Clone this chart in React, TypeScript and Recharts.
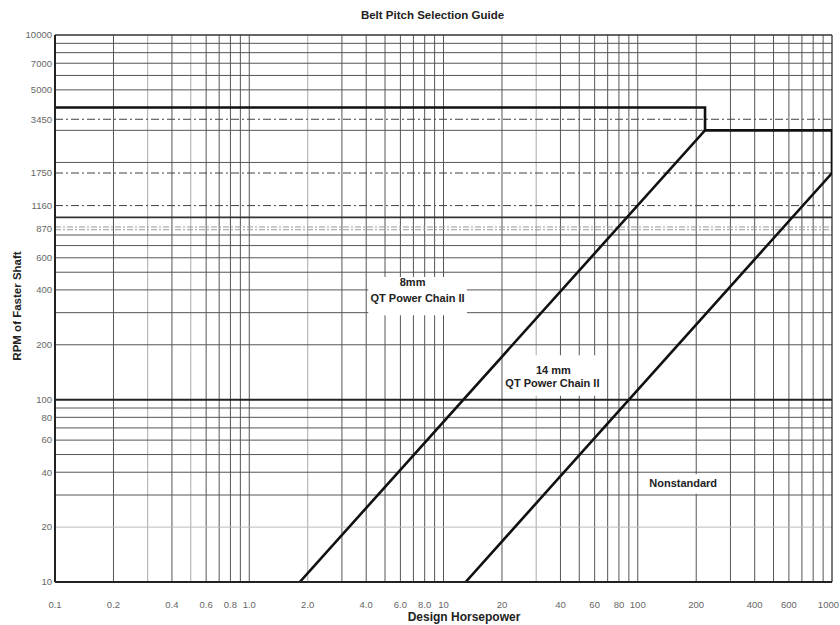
import React from 'react';
import { ComposedChart, Line, XAxis, YAxis, ReferenceLine, ReferenceArea } from 'recharts';

// tick values and their printed labels
const xTicks = [0.1, 0.2, 0.4, 0.6, 0.8, 1, 2, 4, 6, 8, 10, 20, 40, 60, 80, 100, 200, 400, 600, 1000];
const xTickLabels = ['0.1', '0.2', '0.4', '0.6', '0.8', '1.0', '2.0', '4.0', '6.0', '8.0', '10', '20', '40', '60', '80', '100', '200', '400', '600', '1000'];
const yTicks = [10, 20, 40, 60, 80, 100, 200, 400, 600, 870, 1160, 1750, 3450, 5000, 7000, 10000];

// log grid lines
const xGridDark = [0.2, 0.4, 0.6, 0.7, 0.8, 0.9, 1, 3, 4, 5, 6, 7, 8, 9, 10, 20, 40, 50, 60, 70, 80, 90, 100, 200, 300, 400, 500, 600, 700, 800, 900];
const xGridFaint = [0.3, 0.5, 2, 30];
const yGridDark = [30, 40, 50, 60, 70, 80, 90, 200, 300, 400, 500, 600, 700, 800, 2000, 3000, 5000, 6000, 7000, 8000, 9000];
const yGridFaint = [20];
const yDashDot = [1160, 1750, 3450];
const yDashLight = [855, 885];

// selection zone boundaries (hp, rpm)
const boundary8mm = [
  { hp: 0.1, rpm: 4000 },
  { hp: 222, rpm: 4000 },
  { hp: 222, rpm: 3000 },
  { hp: 1.82, rpm: 10 },
];
const boundary14mm = [
  { hp: 222, rpm: 3000 },
  { hp: 1000, rpm: 3000 },
  { hp: 1000, rpm: 1750 },
  { hp: 13, rpm: 10 },
];

const FONT = "'Liberation Sans', Arial, Helvetica, sans-serif";

const boxText = (lines: string[], offsets: { dx: number; dy: number }[]) => (props: any) => {
  const vb = props.viewBox || {};
  const cx = vb.x + vb.width / 2;
  return (
    <g>
      {lines.map((t, i) => (
        <text
          key={i}
          x={cx + offsets[i].dx}
          y={vb.y + offsets[i].dy}
          textAnchor="middle"
          dominantBaseline="central"
          fontFamily={FONT}
          fontSize={11}
          fontWeight="bold"
          fill="#222"
        >
          {t}
        </text>
      ))}
    </g>
  );
};

// x tick: the last label would run off the right edge, so end-anchor it there
const XTick = (props: any) => {
  const { x, y, payload } = props;
  const v = payload.value;
  const label = xTickLabels[xTicks.indexOf(v)] ?? String(v);
  const isLast = v === xTicks[xTicks.length - 1];
  return (
    <text
      x={isLast ? x + 7 : x}
      y={y + 4}
      textAnchor={isLast ? 'end' : 'middle'}
      dominantBaseline="central"
      fontFamily={FONT}
      fontSize={9.5}
      fill="#666"
    >
      {label}
    </text>
  );
};

const App: React.FC = () => {
  return (
    <div style={{ position: 'absolute', left: 0, top: 0, width: 840, height: 625, background: '#fff', fontFamily: FONT }}>
      <div
        style={{
          position: 'absolute',
          left: 0,
          width: 865,
          top: 9,
          textAlign: 'center',
          fontSize: 11.5,
          fontWeight: 'bold',
          color: '#222',
        }}
      >
        Belt Pitch Selection Guide
      </div>
      <ComposedChart width={840} height={625} margin={{ top: 35, right: 8, bottom: 0, left: 0 }}>
        <XAxis
          type="number"
          dataKey="hp"
          scale="log"
          domain={[0.1, 1000]}
          allowDataOverflow
          ticks={xTicks}
          interval={0}
          height={43}
          tickSize={0}
          tickMargin={18}
          tick={<XTick />}
          axisLine={{ stroke: '#222', strokeWidth: 2 }}
          label={{
            content: () => (
              <text x={464} y={617} textAnchor="middle" dominantBaseline="central" fontFamily={FONT} fontSize={12} fontWeight="bold" fill="#222">
                Design Horsepower
              </text>
            ),
          }}
        />
        <YAxis
          type="number"
          dataKey="rpm"
          scale="log"
          domain={[10, 10000]}
          allowDataOverflow
          ticks={yTicks}
          interval={0}
          width={55}
          tickSize={0}
          tickMargin={3}
          tick={{ fontSize: 9.5, fill: '#666', fontFamily: FONT }}
          axisLine={{ stroke: '#222', strokeWidth: 2 }}
          label={{
            content: () => (
              <text
                x={17}
                y={306}
                transform="rotate(-90, 17, 306)"
                textAnchor="middle"
                dominantBaseline="central"
                fontFamily={FONT}
                fontSize={11.5}
                fontWeight="bold"
                fill="#222"
              >
                RPM of Faster Shaft
              </text>
            ),
          }}
        />

        {xGridFaint.map((v) => (
          <ReferenceLine key={'xf' + v} x={v} stroke="#aaa" strokeWidth={1} zIndex={50} />
        ))}
        {xGridDark.map((v) => (
          <ReferenceLine key={'xd' + v} x={v} stroke="#555" strokeWidth={1} zIndex={50} />
        ))}
        {yGridFaint.map((v) => (
          <ReferenceLine key={'yf' + v} y={v} stroke="#bbb" strokeWidth={1} zIndex={50} />
        ))}
        {yGridDark.map((v) => (
          <ReferenceLine key={'yd' + v} y={v} stroke="#555" strokeWidth={1} zIndex={50} />
        ))}
        {yDashLight.map((v) => (
          <ReferenceLine key={'yl' + v} y={v} stroke="#999" strokeWidth={1} strokeDasharray="6 2 2 2" zIndex={50} />
        ))}
        {yDashDot.map((v) => (
          <ReferenceLine key={'ydd' + v} y={v} stroke="#444" strokeWidth={1} strokeDasharray="8 3 2 3" zIndex={50} />
        ))}
        <ReferenceLine y={100} stroke="#222" strokeWidth={2} zIndex={50} />
        <ReferenceLine y={1000} stroke="#333" strokeWidth={1.6} zIndex={50} />
        <ReferenceLine y={10000} stroke="#333" strokeWidth={1.3} zIndex={50} />
        <ReferenceLine x={1000} stroke="#333" strokeWidth={1.3} zIndex={50} />

        <ReferenceArea
          x1={4.1}
          x2={13.2}
          y1={290}
          y2={470}
          fill="#fff"
          fillOpacity={1}
          stroke="none"
          zIndex={60}
          label={boxText(['8mm', 'QT Power Chain II'], [{ dx: -5, dy: 5 }, { dx: 0, dy: 21 }])}
        />
        <ReferenceArea
          x1={20.7}
          x2={67}
          y1={105}
          y2={175}
          fill="#fff"
          fillOpacity={1}
          stroke="none"
          zIndex={60}
          label={boxText(['14 mm', 'QT Power Chain II'], [{ dx: -1, dy: 15 }, { dx: -2, dy: 28 }])}
        />
        <ReferenceArea
          x1={103}
          x2={285}
          y1={30.5}
          y2={39}
          fill="#fff"
          fillOpacity={1}
          stroke="none"
          zIndex={60}
          label={boxText(['Nonstandard'], [{ dx: 0, dy: 9 }])}
        />

        <Line
          data={boundary8mm}
          dataKey="rpm"
          type="linear"
          stroke="#111"
          strokeWidth={2.6}
          dot={false}
          activeDot={false}
          isAnimationActive={false}
        />
        <Line
          data={boundary14mm}
          dataKey="rpm"
          type="linear"
          stroke="#111"
          strokeWidth={2.6}
          dot={false}
          activeDot={false}
          isAnimationActive={false}
        />
      </ComposedChart>
    </div>
  );
};

export default App;
